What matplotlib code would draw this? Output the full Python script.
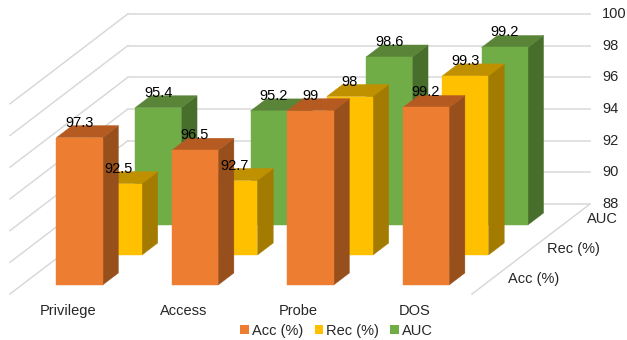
import matplotlib
matplotlib.use('Agg')
import matplotlib.pyplot as plt
from matplotlib.patches import Patch

plt.rcParams['font.family'] = ['Liberation Sans', 'DejaVu Sans']

categories = ['Privilege', 'Access', 'Probe', 'DOS']
series_names = ['Acc (%)', 'Rec (%)', 'AUC']
acc = [97.3, 96.5, 99, 99.2]
rec = [92.5, 92.7, 98, 99.3]
auc = [95.4, 95.2, 98.6, 99.2]
value_ticks = [88, 90, 92, 94, 96, 98, 100]

# front, top and side shade per series
colors = [('#ED7D31', '#B55B22', '#97501C'),
          ('#FFC000', '#BF9000', '#A37B00'),
          ('#70AD47', '#5A8538', '#476E2B')]

GRID = '#D9D9D9'
TEXT = '#262626'
FONT = 10.5


def project(pos, value, depth):
    """Oblique projection of (category, value, series depth) to pixels"""
    x = 10 + 115.5 * pos + 39.33 * depth
    y = 294 - 15.85 * (value - 88) - 30 * depth
    return x, y


def draw_bar(ax, cat, series, value, cols):
    left, right = cat + 0.3, cat + 0.7
    near, far = series + 0.3, series + 0.7
    front = [project(left, 88, near), project(right, 88, near),
             project(right, value, near), project(left, value, near)]
    top = [project(left, value, near), project(right, value, near),
           project(right, value, far), project(left, value, far)]
    side = [project(right, 88, near), project(right, 88, far),
            project(right, value, far), project(right, value, near)]
    for poly, col in zip((side, top, front), (cols[2], cols[1], cols[0])):
        ax.fill(*zip(*poly), facecolor=col, edgecolor=col, linewidth=0.3, zorder=3)


fig = plt.figure(figsize=(6.27, 3.4), dpi=100)
ax = fig.add_axes([0, 0, 1, 1])
ax.set_xlim(0, 627)
ax.set_ylim(340, 0)
ax.axis('off')

# walls
for v in value_ticks:
    corner = project(0, v, 3)
    ax.plot(*zip(project(0, v, 0), corner), color=GRID, lw=1.1, zorder=1)
    ax.plot(*zip(corner, project(4, v, 3)), color=GRID, lw=1.1, zorder=1)
    x, y = project(4, v, 3)
    ax.text(x + 12, y, str(v), fontsize=FONT, color=TEXT, ha='left', va='center')
ax.plot(*zip(project(4, 88, 0), project(4, 88, 3)), color=GRID, lw=1.1, zorder=1)

# back series first so the nearer bars cover them
all_series = [acc, rec, auc]
for s in (2, 1, 0):
    for c, value in enumerate(all_series[s]):
        draw_bar(ax, c, s, value, colors[s])

# data labels on top of every bar
for s in (2, 1, 0):
    for c, value in enumerate(all_series[s]):
        x, y = project(c + 0.5, value, s + 0.3)
        ax.text(x, y - 15, f'{value:g}', fontsize=FONT, color='black',
                ha='center', va='center', zorder=5)

for c, name in enumerate(categories):
    x, y = project(c + 0.5, 88, 0)
    ax.text(x, y + 17, name, fontsize=FONT, color=TEXT, ha='center', va='center')

for s, name in enumerate(series_names):
    x, y = project(4, 88, s + 0.5)
    ax.text(x + 16.5, y, name, fontsize=FONT, color=TEXT, ha='left', va='center')

handles = [Patch(facecolor=colors[s][0], label=series_names[s]) for s in range(3)]
ax.legend(handles=handles, ncol=3, frameon=False, loc='center',
          bbox_to_anchor=(336.5 / 627, 1 - 331 / 340), fontsize=FONT,
          handlelength=0.57, handleheight=0.57, handletextpad=0.2,
          columnspacing=0.8, labelcolor=TEXT, borderpad=0, borderaxespad=0)

fig.savefig('out.png', dpi=100)
